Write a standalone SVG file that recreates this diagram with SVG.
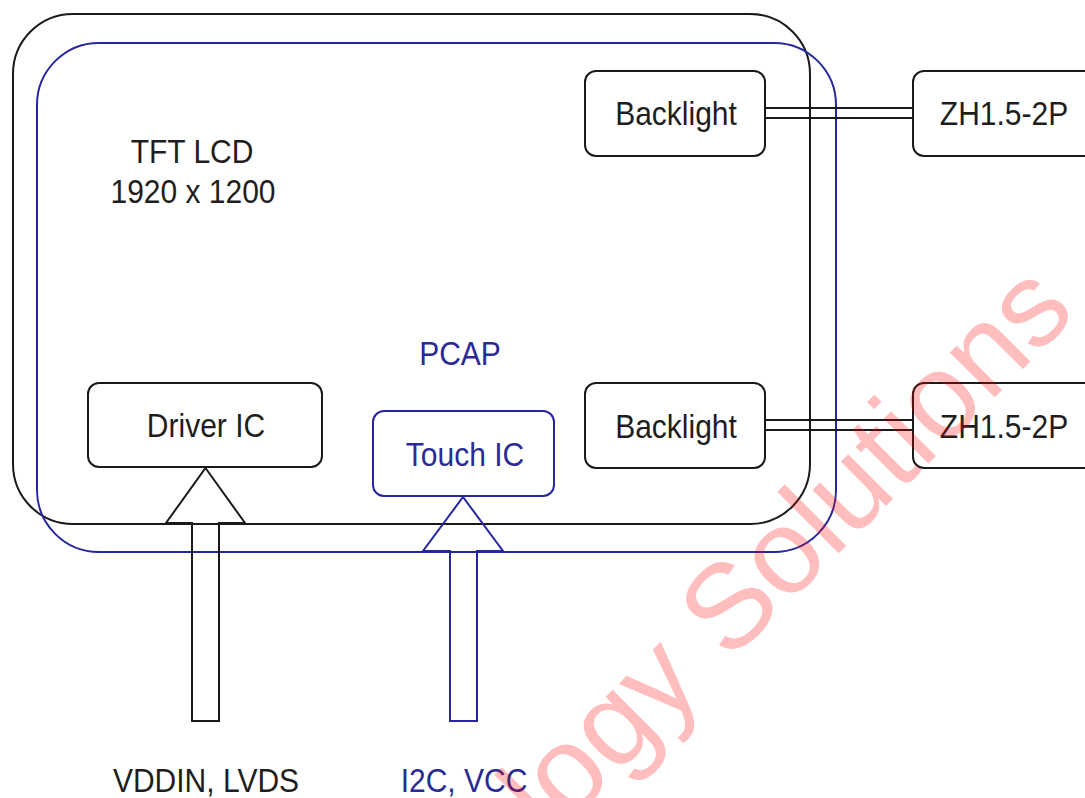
<svg xmlns="http://www.w3.org/2000/svg" width="1085" height="798" viewBox="0 0 1085 798">
<style>
  .blk{fill:none;stroke:#1a1a1a;stroke-width:2}
  .blu{fill:none;stroke:#2626a0;stroke-width:2}
  .box{fill:#ffffff;stroke:#1a1a1a;stroke-width:2}
  .t{font-family:"Liberation Sans",Arial,sans-serif;font-size:30px;text-anchor:middle;fill:#1e1e1e}
  .tb{font-family:"Liberation Sans",Arial,sans-serif;font-size:30px;text-anchor:middle;fill:#2a2a96}
  .wm{font-family:"Liberation Sans",Arial,sans-serif;font-size:120px;fill:#ff0000;fill-opacity:0.26}
</style>
<rect width="1085" height="798" fill="#ffffff"/>
<g id="tft-lcd">
  <rect class="blk" x="13" y="14" width="797" height="510" rx="60" ry="60"/>
  <text class="t" transform="translate(192 163) scale(1 1.13)">TFT LCD</text>
  <text class="t" transform="translate(193 203) scale(1 1.13)">1920 x 1200</text>
</g>
<g id="pcap">
  <rect class="blu" x="37" y="43" width="799" height="509" rx="62" ry="62"/>
  <text class="tb" transform="translate(460 365) scale(1 1.13)">PCAP</text>
</g>
<g id="backlight-top">
  <rect class="box" x="585" y="71" width="180" height="85" rx="11" ry="11"/>
  <text class="t" transform="translate(676 125) scale(1 1.13)">Backlight</text>
</g>
<g id="zh-top">
  <rect class="box" x="913" y="71" width="182" height="85" rx="11" ry="11"/>
  <text class="t" transform="translate(1004 125) scale(1 1.13)">ZH1.5-2P</text>
</g>
<g id="backlight-bottom">
  <rect class="box" x="585" y="383" width="180" height="85" rx="11" ry="11"/>
  <text class="t" transform="translate(676 438) scale(1 1.13)">Backlight</text>
</g>
<g id="zh-bottom">
  <rect class="box" x="913" y="383" width="182" height="85" rx="11" ry="11"/>
  <text class="t" transform="translate(1004 438) scale(1 1.13)">ZH1.5-2P</text>
</g>
<g id="driver-ic">
  <rect class="box" x="88" y="383" width="234" height="84" rx="11" ry="11"/>
  <text class="t" transform="translate(206 437) scale(1 1.13)">Driver IC</text>
</g>
<g id="touch-ic">
  <rect x="373" y="411" width="181" height="85" rx="11" ry="11" fill="#ffffff" stroke="#2626a0" stroke-width="2"/>
  <text class="tb" transform="translate(465 466) scale(1 1.13)">Touch IC</text>
</g>
<g id="connectors">
  <line class="blk" x1="765" y1="108" x2="913" y2="108"/>
  <line class="blk" x1="765" y1="118" x2="913" y2="118"/>
  <line class="blk" x1="765" y1="420" x2="913" y2="420"/>
  <line class="blk" x1="765" y1="430" x2="913" y2="430"/>
  <path class="blk" stroke-linejoin="miter" d="M205.5 468 L245 523 L219 523 L219 721 L192 721 L192 523 L166 523 Z"/>
  <path class="blu" stroke-linejoin="miter" d="M463 497 L503 551 L477 551 L477 721 L450 721 L450 551 L423 551 Z"/>
</g>
<g id="labels">
  <text class="t" transform="translate(206 792) scale(1 1.13)">VDDIN, LVDS</text>
  <text class="tb" transform="translate(464 792) scale(1 1.13)">I2C, VCC</text>
</g>
<g id="watermark">
  <text class="wm" transform="translate(550 842) rotate(-45)">logy Solutions</text>
</g>
</svg>
